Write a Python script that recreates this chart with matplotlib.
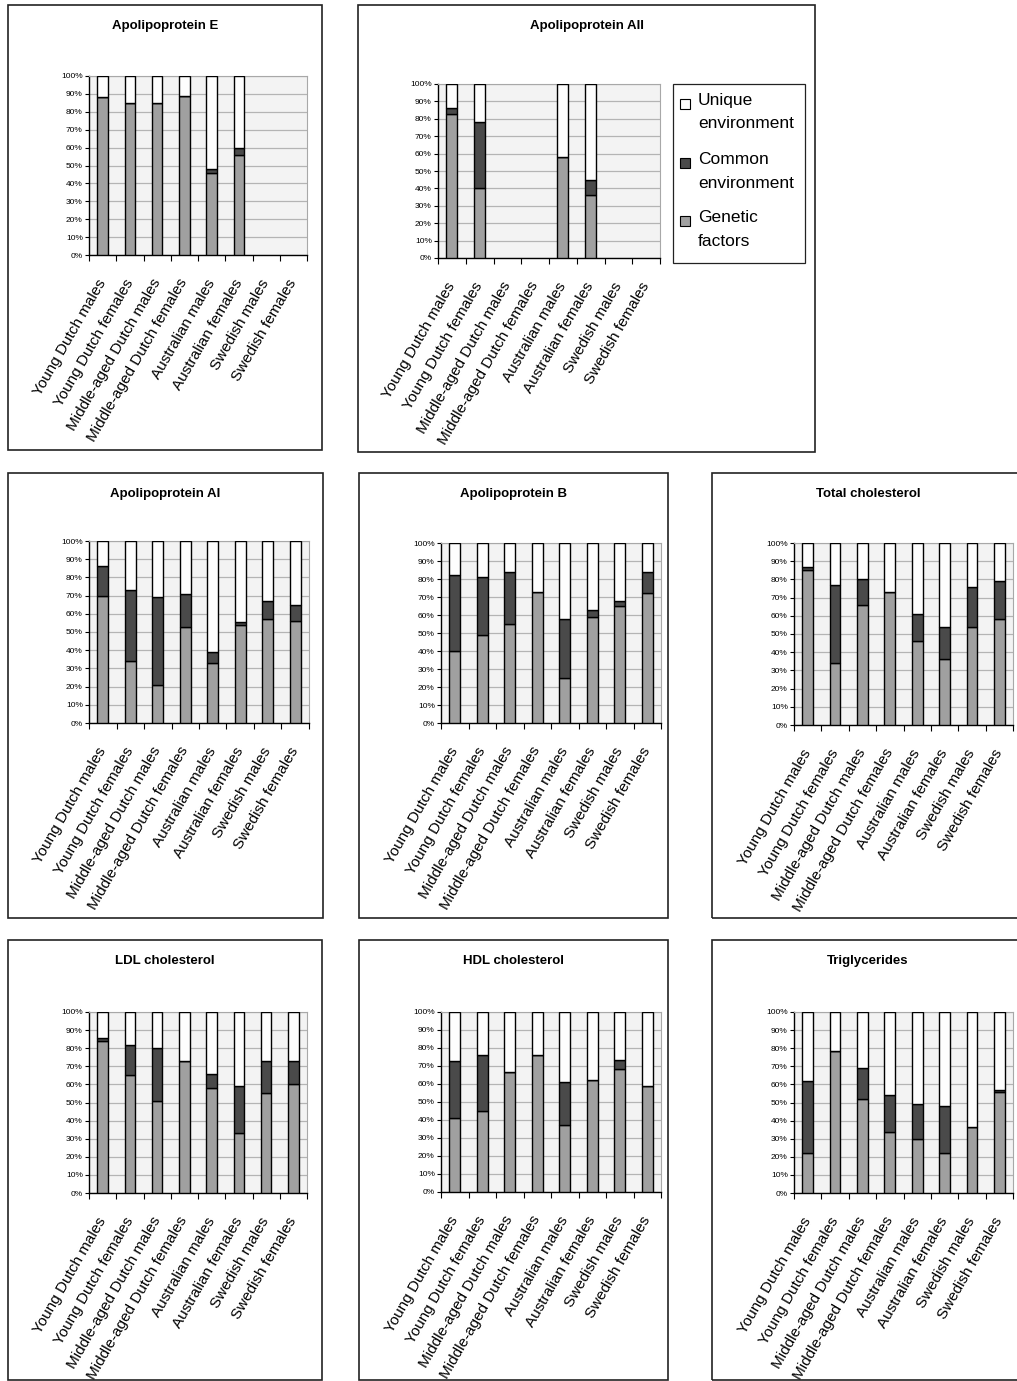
import numpy as np
import matplotlib
matplotlib.use("Agg")
import matplotlib.pyplot as plt
from matplotlib.patches import Rectangle

plt.rcParams['font.family'] = ['Liberation Sans', 'DejaVu Sans']

W, H = 1017, 1381

categories = ['Young Dutch males', 'Young Dutch females', 'Middle-aged Dutch males',
              'Middle-aged Dutch females', 'Australian males', 'Australian females',
              'Swedish males', 'Swedish females']

# genetic share and common-environment share (%) per group, None = not studied
apoe_gen = [88, 85, 85, 89, 46, 56, None, None]
apoe_com = [0, 0, 0, 0, 2, 4, None, None]

apoaii_gen = [83, 40, None, None, 58, 36, None, None]
apoaii_com = [3, 38, None, None, 0, 9, None, None]

apoai_gen = [70, 34, 21, 53, 33, 54, 57, 56]
apoai_com = [16, 39, 48, 18, 6, 1.5, 10, 9]

apob_gen = [40, 49, 55, 73, 25, 59, 65, 72]
apob_com = [42, 32, 29, 0, 33, 4, 3, 12]

tc_gen = [85, 34, 66, 73, 46, 36, 54, 58]
tc_com = [2, 43, 14, 0, 15, 18, 22, 21]

ldl_gen = [84, 65, 51, 73, 58, 33, 55, 60]
ldl_com = [1.5, 17, 29, 0, 8, 26, 18, 13]

hdl_gen = [41, 45, 66.5, 76, 37, 62, 68.5, 59]
hdl_com = [32, 31, 0, 0, 24, 0, 5, 0]

tg_gen = [22, 78.5, 52, 33.5, 30, 22, 36.5, 56]
tg_com = [40, 0, 17, 20.5, 19, 26, 0, 1]

GEN = '#a0a0a0'
COM = '#4a4a4a'
UNI = '#fdfdfd'
BG = '#f3f3f3'

# (title, genetic, common, axes box px, frame box px)
panels = [
    ('Apolipoprotein E', apoe_gen, apoe_com, (89, 76, 307, 255), (8, 5, 322, 450)),
    ('Apolipoprotein AII', apoaii_gen, apoaii_com, (438, 84, 660, 258), (358, 5, 815, 452)),
    ('Apolipoprotein AI', apoai_gen, apoai_com, (89, 541, 309, 723), (8, 473, 323, 918)),
    ('Apolipoprotein B', apob_gen, apob_com, (441, 543, 661, 723), (359, 473, 668, 918)),
    ('Total cholesterol', tc_gen, tc_com, (794, 543, 1013, 725), (712, 473, 1024, 918)),
    ('LDL cholesterol', ldl_gen, ldl_com, (89, 1012, 307, 1193), (8, 940, 322, 1380)),
    ('HDL cholesterol', hdl_gen, hdl_com, (441, 1012, 661, 1192), (359, 940, 668, 1380)),
    ('Triglycerides', tg_gen, tg_com, (794, 1012, 1013, 1193), (712, 940, 1024, 1380)),
]

fig = plt.figure(figsize=(W / 100, H / 100), dpi=100)


def fx(px):
    return px / W


def fy(py):
    return 1 - py / H


for title, gen, com, box, frame in panels:
    # panel frame and title
    x0, y0, x1, y1 = frame
    fig.patches.append(Rectangle((fx(x0), fy(y1)), fx(x1 - x0), (y1 - y0) / H,
                                 transform=fig.transFigure, fill=False,
                                 edgecolor='#222222', lw=1.2))
    fig.text(fx((x0 + x1) / 2), fy(y0 + 21), title,
             ha='center', va='center', fontsize=9.5, fontweight='bold')

    a0, b0, a1, b1 = box
    ax = fig.add_axes([fx(a0), fy(b1), fx(a1 - a0), (b1 - b0) / H])
    ax.set_facecolor(BG)

    idx = [i for i, g in enumerate(gen) if g is not None]
    g = np.array([gen[i] for i in idx], dtype=float)
    c = np.array([com[i] for i in idx], dtype=float)
    u = 100 - g - c
    ax.bar(idx, g, width=0.39, color=GEN, edgecolor='black', lw=1, zorder=3)
    ax.bar(idx, c, bottom=g, width=0.39, color=COM, edgecolor='black', lw=1, zorder=3)
    ax.bar(idx, u, bottom=g + c, width=0.39, color=UNI, edgecolor='black', lw=1, zorder=3)

    ax.set_xlim(-0.5, 7.5)
    ax.set_ylim(0, 100)
    ax.set_yticks(np.arange(0, 101, 10))
    ax.set_yticklabels([f'{v}%' for v in range(0, 101, 10)])
    ax.yaxis.grid(True, color='#b4b4b4', lw=0.9, zorder=0)
    ax.tick_params(axis='y', labelsize=6, length=3, width=0.8, pad=1.5)

    ax.set_xticks(np.arange(-0.5, 8, 1))
    ax.set_xticklabels([])
    ax.tick_params(axis='x', which='major', length=4, width=0.8)
    ax.set_xticks(range(8), categories, minor=True)
    ax.tick_params(axis='x', which='minor', length=0, pad=18, labelsize=11)
    for lab in ax.get_xticklabels(minor=True):
        lab.set_rotation(60)
        lab.set_ha('right')
        lab.set_va('center')
        lab.set_rotation_mode('anchor')

    for s in ('top', 'right'):
        ax.spines[s].set_color('#a8a8a8')
        ax.spines[s].set_linewidth(0.8)
    for s in ('left', 'bottom'):
        ax.spines[s].set_color('black')
        ax.spines[s].set_linewidth(1)

# legend box beside the Apolipoprotein AII chart
fig.patches.append(Rectangle((fx(673), fy(263)), fx(805 - 673), (263 - 84) / H,
                             transform=fig.transFigure, fill=False,
                             edgecolor='#222222', lw=0.9))
legend_items = [(UNI, 'Unique', 'environment', 101),
                (COM, 'Common', 'environment', 160),
                (GEN, 'Genetic', 'factors', 218)]
for col, l1, l2, ty in legend_items:
    fig.patches.append(Rectangle((fx(680), fy(ty + 8)), fx(10), 10 / H,
                                 transform=fig.transFigure, facecolor=col,
                                 edgecolor='black', lw=0.8))
    fig.text(fx(698), fy(ty), l1, ha='left', va='center', fontsize=12.5)
    fig.text(fx(698), fy(ty + 23), l2, ha='left', va='center', fontsize=12.5)

fig.savefig('out.png', dpi=100, facecolor='white')
